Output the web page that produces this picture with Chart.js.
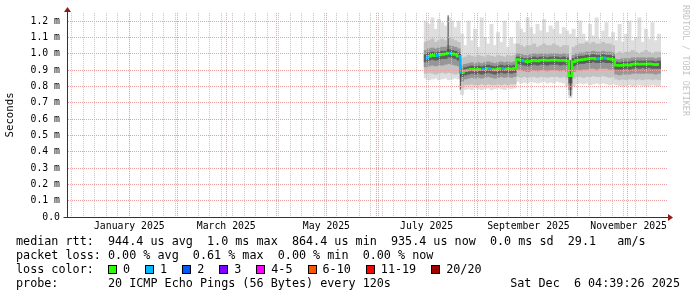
<!DOCTYPE html>
<html>
<head>
<meta charset="utf-8">
<script src="https://cdn.jsdelivr.net/npm/chart.js"></script>
<style>
  body { margin: 0; background: #fff; }
  #wrap { position: relative; width: 697px; height: 297px; overflow: hidden; }
  #c { display: block; }
  .row { position: absolute; left: 16px; font-family: 'DejaVu Sans Mono', monospace; font-size: 11.75px;
         line-height: 14px; white-space: pre; color: #000; }
  .key { display: inline-block; }
  .sq { display: inline-block; width: 7px; height: 7px; border: 1px solid #000; vertical-align: -1px; margin-right: 6px; }
  #mark { position: absolute; left: 681px; top: 5px; writing-mode: vertical-rl; font-family: 'DejaVu Sans Mono', monospace;
          font-size: 8.4px; color: #c4c4c4; }
</style>
</head>
<body>
<div id="wrap">
  <canvas id="c" width="697" height="297"></canvas>
  <div id="mark">RRDTOOL / TOBI OETIKER</div>
  <div class="row" style="top:234px">median rtt:  944.4 us avg  1.0 ms max  864.4 us min  935.4 us now  0.0 ms sd  29.1   am/s</div>
  <div class="row" style="top:248px">packet loss: 0.00 % avg  0.61 % max  0.00 % min  0.00 % now</div>
  <div class="row" style="top:262px">loss color:  <span id="lossKey"></span></div>
  <div class="row" style="top:276px">probe:       20 ICMP Echo Pings (56 Bytes) every 120s</div>
  <div class="row" style="top:276px;left:auto;right:17px">Sat Dec  6 04:39:26 2025</div>
</div>
<script>
// x values are days counted from 1 Jan 2025; window is the last 360 days
var xStart = -19.8;
var xEnd = 340.2;

// one sample every 2 days, from mid July to early December
var days = [196, 198, 200, 202, 204, 206, 208, 210, 212, 214, 216,
  218, 220, 222, 224, 226, 228, 230, 232, 234, 236, 238, 240, 242, 244, 246, 248, 250,
  252, 254, 256, 258, 260, 262, 264, 266, 268, 270, 272, 274, 276, 278, 280, 282,
  284,
  286, 288, 290, 292, 294, 296, 298, 300, 302, 304, 306, 308, 310,
  312, 314, 316, 318, 320, 322, 324, 326, 328, 330, 332, 334, 336, 338];

// median rtt in ms
var median = [0.975, 0.985, 0.99, 0.988, 0.992, 0.995, 0.998, 1.005, 1.0, 0.995, 0.985,
  0.885, 0.895, 0.9, 0.905, 0.9, 0.905, 0.902, 0.905, 0.91, 0.905, 0.9, 0.905, 0.91, 0.905, 0.908, 0.905, 0.91,
  0.965, 0.96, 0.955, 0.95, 0.955, 0.96, 0.955, 0.96, 0.962, 0.958, 0.96, 0.962, 0.96, 0.958, 0.96, 0.955,
  0.865,
  0.95, 0.96, 0.962, 0.965, 0.968, 0.97, 0.972, 0.968, 0.97, 0.975, 0.97, 0.968, 0.965,
  0.93, 0.928, 0.93, 0.932, 0.93, 0.935, 0.938, 0.935, 0.937, 0.935, 0.938, 0.935, 0.932, 0.935];

// lost pings (of 20) per sample
var loss = [1, 0, 0, 1, 0, 0, 0, 1, 0, 0, 1,
  0, 0, 0, 0, 0, 0, 1, 0, 1, 0, 0, 0, 1, 0, 0, 0, 0,
  0, 1, 0, 0, 0, 0, 0, 0, 0, 0, 0, 0, 0, 0, 0, 0,
  0,
  0, 0, 0, 0, 0, 0, 0, 1, 0, 1, 0, 0, 0,
  0, 0, 0, 0, 0, 0, 0, 0, 0, 0, 0, 0, 0, 0];

// smoke: fastest / slowest ping
var pingMin = [0.85, 0.84, 0.845, 0.85, 0.84, 0.845, 0.85, 0.84, 0.845, 0.85, 0.845,
  0.75, 0.78, 0.785, 0.78, 0.79, 0.785, 0.78, 0.785, 0.79, 0.78, 0.785, 0.79, 0.785, 0.78, 0.79, 0.785, 0.79,
  0.83, 0.82, 0.825, 0.82, 0.83, 0.825, 0.82, 0.825, 0.83, 0.82, 0.825, 0.82, 0.83, 0.825, 0.82, 0.8,
  0.73,
  0.8, 0.815, 0.82, 0.815, 0.82, 0.81, 0.815, 0.82, 0.815, 0.82, 0.815, 0.81, 0.815,
  0.81, 0.805, 0.8, 0.805, 0.81, 0.8, 0.805, 0.81, 0.805, 0.8, 0.805, 0.81, 0.805, 0.8];
var pingMax = [1.2, 1.18, 1.22, 1.15, 1.21, 1.19, 1.17, 1.22, 1.2, 1.16, 1.2,
  1.12, 1.05, 1.2, 1.08, 1.15, 1.04, 1.22, 1.1, 1.06, 1.18, 1.05, 1.13, 1.07, 1.2, 1.04, 1.1, 1.06,
  1.2, 1.15, 1.13, 1.22, 1.16, 1.12, 1.18, 1.14, 1.21, 1.13, 1.17, 1.15, 1.2, 1.12, 1.16, 1.14,
  1.12,
  1.15, 1.1, 1.2, 1.12, 1.08, 1.18, 1.11, 1.22, 1.09, 1.14, 1.19, 1.1, 1.13,
  1.08, 1.18, 1.07, 1.12, 1.2, 1.08, 1.1, 1.22, 1.07, 1.15, 1.09, 1.19, 1.08, 1.12];

// smoke: outer band
var outerLo = [0.88, 0.885, 0.88, 0.875, 0.88, 0.885, 0.88, 0.885, 0.88, 0.875, 0.88,
  0.79, 0.81, 0.81, 0.815, 0.81, 0.81, 0.815, 0.81, 0.815, 0.81, 0.81, 0.815, 0.81, 0.815, 0.81, 0.815, 0.815,
  0.86, 0.855, 0.86, 0.855, 0.86, 0.86, 0.855, 0.86, 0.86, 0.855, 0.86, 0.86, 0.86, 0.855, 0.86, 0.85,
  0.75,
  0.85, 0.86, 0.86, 0.855, 0.86, 0.86, 0.865, 0.86, 0.86, 0.865, 0.86, 0.855, 0.86,
  0.845, 0.84, 0.845, 0.84, 0.845, 0.845, 0.84, 0.845, 0.84, 0.845, 0.845, 0.84, 0.845, 0.84];
var outerHi = [1.07, 1.08, 1.09, 1.07, 1.08, 1.09, 1.08, 1.1, 1.09, 1.08, 1.07,
  0.97, 0.98, 0.99, 0.985, 0.98, 0.99, 0.985, 0.98, 0.99, 0.985, 0.98, 0.99, 0.985, 0.98, 0.99, 0.985, 0.99,
  1.06, 1.05, 1.04, 1.05, 1.05, 1.06, 1.04, 1.05, 1.06, 1.05, 1.05, 1.06, 1.05, 1.04, 1.05, 1.05,
  0.95,
  1.04, 1.05, 1.06, 1.06, 1.07, 1.06, 1.07, 1.06, 1.06, 1.07, 1.06, 1.06, 1.05,
  1.0, 1.01, 1.0, 1.01, 1.01, 1.02, 1.01, 1.0, 1.01, 1.02, 1.01, 1.0, 1.01, 1.01];

// smoke: middle band
var midLo = [0.92, 0.925, 0.93, 0.925, 0.93, 0.93, 0.935, 0.94, 0.935, 0.93, 0.925,
  0.83, 0.845, 0.85, 0.855, 0.85, 0.855, 0.85, 0.855, 0.86, 0.855, 0.85, 0.855, 0.86, 0.855, 0.86, 0.855, 0.86,
  0.905, 0.9, 0.895, 0.89, 0.895, 0.9, 0.895, 0.9, 0.9, 0.895, 0.9, 0.9, 0.9, 0.895, 0.9, 0.89,
  0.78,
  0.89, 0.9, 0.9, 0.905, 0.905, 0.91, 0.91, 0.905, 0.91, 0.91, 0.91, 0.905, 0.905,
  0.875, 0.87, 0.875, 0.875, 0.875, 0.88, 0.88, 0.88, 0.88, 0.88, 0.88, 0.88, 0.875, 0.88];
var midHi = [1.02, 1.03, 1.035, 1.03, 1.035, 1.04, 1.04, 1.05, 1.045, 1.04, 1.03,
  0.93, 0.935, 0.94, 0.945, 0.94, 0.945, 0.94, 0.945, 0.95, 0.945, 0.94, 0.945, 0.95, 0.945, 0.95, 0.945, 0.95,
  1.0, 0.995, 0.99, 0.99, 0.995, 1.0, 0.995, 1.0, 1.0, 0.995, 1.0, 1.0, 1.0, 0.995, 1.0, 0.995,
  0.92,
  0.99, 1.0, 1.005, 1.005, 1.01, 1.01, 1.015, 1.01, 1.01, 1.015, 1.01, 1.01, 1.005,
  0.965, 0.965, 0.97, 0.97, 0.97, 0.975, 0.975, 0.975, 0.975, 0.975, 0.975, 0.975, 0.97, 0.975];

// smoke: core band
var coreLo = [0.95, 0.96, 0.965, 0.96, 0.965, 0.97, 0.97, 0.98, 0.975, 0.97, 0.96,
  0.86, 0.87, 0.875, 0.88, 0.875, 0.88, 0.875, 0.88, 0.885, 0.88, 0.875, 0.88, 0.885, 0.88, 0.885, 0.88, 0.885,
  0.94, 0.935, 0.93, 0.925, 0.93, 0.935, 0.93, 0.935, 0.935, 0.93, 0.935, 0.935, 0.935, 0.93, 0.935, 0.93,
  0.82,
  0.925, 0.935, 0.94, 0.94, 0.945, 0.945, 0.95, 0.945, 0.945, 0.95, 0.945, 0.945, 0.94,
  0.905, 0.905, 0.905, 0.91, 0.905, 0.91, 0.915, 0.91, 0.915, 0.91, 0.915, 0.91, 0.91, 0.91];
var coreHi = [0.995, 1.005, 1.01, 1.005, 1.01, 1.015, 1.015, 1.025, 1.02, 1.015, 1.005,
  0.905, 0.915, 0.92, 0.925, 0.92, 0.925, 0.92, 0.925, 0.93, 0.925, 0.92, 0.925, 0.93, 0.925, 0.93, 0.925, 0.93,
  0.98, 0.975, 0.97, 0.97, 0.975, 0.98, 0.975, 0.98, 0.98, 0.975, 0.98, 0.98, 0.98, 0.975, 0.98, 0.975,
  0.9,
  0.97, 0.98, 0.985, 0.985, 0.99, 0.99, 0.995, 0.99, 0.99, 0.995, 0.99, 0.99, 0.985,
  0.95, 0.945, 0.95, 0.95, 0.95, 0.955, 0.955, 0.955, 0.955, 0.955, 0.955, 0.955, 0.95, 0.955];

// thin dark streaks (day, low, high)
var spikeDays = [209.6, 217, 284.2];
var spikeLo = [1.0, 0.78, 0.74];
var spikeHi = [1.235, 1.0, 0.96];

var lossLabels = ['0', '1', '2', '3', '4-5', '6-10', '11-19', '20/20'];
var lossColors = ['#26ff00', '#00b8ff', '#0059ff', '#7e00ff', '#ff00ff', '#ff5500', '#ff0000', '#a10000'];

var yTicks = [0, 0.1, 0.2, 0.3, 0.4, 0.5, 0.6, 0.7, 0.8, 0.9, 1.0, 1.1, 1.2];
var yTickLabels = ['0.0', '0.1 m', '0.2 m', '0.3 m', '0.4 m', '0.5 m', '0.6 m', '0.7 m', '0.8 m', '0.9 m', '1.0 m', '1.1 m', '1.2 m'];

var monthStarts = [0, 31, 59, 90, 120, 151, 181, 212, 243, 273, 304, 334];
var xLabelDays = [15.5, 74.5, 135.5, 196.5, 258.5, 319.5];
var xLabels = ['January 2025', 'March 2025', 'May 2025', 'July 2025', 'September 2025', 'November 2025'];

var minorGrid = '#c6c6c6';
var majorGrid = '#e8a0a0';
var axisFont = { family: 'DejaVu Sans Mono', size: 9.8 };
var dotted = { display: true, color: 'rgba(0,0,0,0)', width: 1, dash: [1, 1] };

// x ticks: weekly (Mondays) grey lines, month starts red, label ticks without a line
var xTicks = [];
for (var w = -16; w <= xEnd; w += 7) xTicks.push({ v: w, color: minorGrid, label: '' });
monthStarts.forEach(function (m) { xTicks.push({ v: m, color: majorGrid, label: '' }); });
xLabelDays.forEach(function (d, i) { xTicks.push({ v: d, color: 'rgba(0,0,0,0)', label: xLabels[i] }); });

function lossBucket(n) {
    if (n <= 3) return n;
    if (n <= 5) return 4;
    if (n <= 10) return 5;
    if (n <= 19) return 6;
    return 7;
}

function band(lo, hi, color, order) {
    return {
        type: 'bar',
        data: days.map(function (d, i) { return { x: d, y: [lo[i], hi[i]] }; }),
        backgroundColor: color,
        borderWidth: 0,
        grouped: false,
        categoryPercentage: 1,
        barPercentage: 1,
        order: order
    };
}

// streaks as a broken line: two points per streak, null in between
var spikePts = [];
spikeDays.forEach(function (d, i) {
    spikePts.push({ x: d, y: spikeLo[i] }, { x: d, y: spikeHi[i] }, { x: d, y: null });
});

// rrdtool style axis lines with arrow heads
var axes = {
    id: 'axes',
    afterDraw: function (chart) {
        var ctx = chart.ctx, a = chart.chartArea;
        var l = Math.round(a.left) + 0.5, b = Math.round(a.bottom) + 0.5;
        ctx.save();
        ctx.lineWidth = 1;
        ctx.strokeStyle = '#333';
        ctx.beginPath();
        ctx.moveTo(l, b);
        ctx.lineTo(l, a.top - 2);
        ctx.moveTo(l - 4, b);
        ctx.lineTo(a.right + 2, b);
        ctx.stroke();
        ctx.fillStyle = '#8c1c1c';
        ctx.beginPath();
        ctx.moveTo(l - 3.5, a.top - 1);
        ctx.lineTo(l + 3.5, a.top - 1);
        ctx.lineTo(l, a.top - 6);
        ctx.fill();
        ctx.beginPath();
        ctx.moveTo(a.right + 1, b - 3.5);
        ctx.lineTo(a.right + 1, b + 3.5);
        ctx.lineTo(a.right + 6, b);
        ctx.fill();
        ctx.restore();
    }
};

new Chart(document.getElementById('c'), {
    type: 'bar',
    data: {
        datasets: [
            {
                type: 'line',
                data: days.map(function (d, i) { return { x: d, y: median[i] }; }),
                borderColor: lossColors[0],
                borderWidth: 2.5,
                stepped: 'middle',
                pointRadius: 0,
                fill: false,
                segment: {
                    borderColor: function (c) { return lossColors[lossBucket(loss[c.p0DataIndex])]; }
                },
                order: 0
            },
            {
                type: 'line',
                data: spikePts,
                borderColor: '#454545',
                borderWidth: 1,
                pointRadius: 0,
                spanGaps: false,
                fill: false,
                order: 1
            },
            band(coreLo, coreHi, '#5e5e5e', 2),
            band(midLo, midHi, '#969696', 3),
            band(outerLo, outerHi, '#c2c2c2', 4),
            band(pingMin, pingMax, '#dedede', 5)
        ]
    },
    options: {
        responsive: false,
        devicePixelRatio: 1,
        animation: false,
        events: [],
        layout: { padding: { top: 12, right: 30, bottom: 62, left: 0 } },
        plugins: { legend: { display: false }, tooltip: { enabled: false } },
        scales: {
            x: {
                type: 'linear',
                min: xStart,
                max: xEnd,
                afterBuildTicks: function (s) {
                    s.ticks = xTicks.map(function (t) { return { value: t.v }; });
                },
                afterFit: function (s) { s.height = 18; },
                ticks: {
                    autoSkip: false,
                    maxRotation: 0,
                    padding: 4,
                    color: '#000',
                    font: axisFont,
                    callback: function (v, i) { return xTicks[i] ? xTicks[i].label : ''; }
                },
                grid: {
                    color: function (c) { return xTicks[c.index] ? xTicks[c.index].color : minorGrid; },
                    drawTicks: false,
                    z: 1
                },
                border: dotted
            },
            y: {
                min: 0,
                max: 1.25,
                afterBuildTicks: function (s) {
                    s.ticks = yTicks.map(function (v) { return { value: v }; });
                },
                afterFit: function (s) { s.width = 67; },
                ticks: {
                    padding: 7,
                    color: '#000',
                    font: axisFont,
                    callback: function (v, i) { return yTickLabels[i]; }
                },
                grid: { color: majorGrid, drawTicks: false, z: 1 },
                border: dotted,
                title: {
                    display: true,
                    text: 'Seconds',
                    color: '#000',
                    font: { family: 'DejaVu Sans Mono', size: 10.7 },
                    padding: { top: 4, bottom: 0 }
                }
            }
        }
    },
    plugins: [axes]
});

// loss colour key
var key = document.getElementById('lossKey');
lossLabels.forEach(function (lab, i) {
    var item = document.createElement('span');
    item.className = 'key';
    item.style.marginRight = '15px';
    var sq = document.createElement('span');
    sq.className = 'sq';
    sq.style.background = lossColors[i];
    item.appendChild(sq);
    item.appendChild(document.createTextNode(lab));
    key.appendChild(item);
});
</script>
</body>
</html>
